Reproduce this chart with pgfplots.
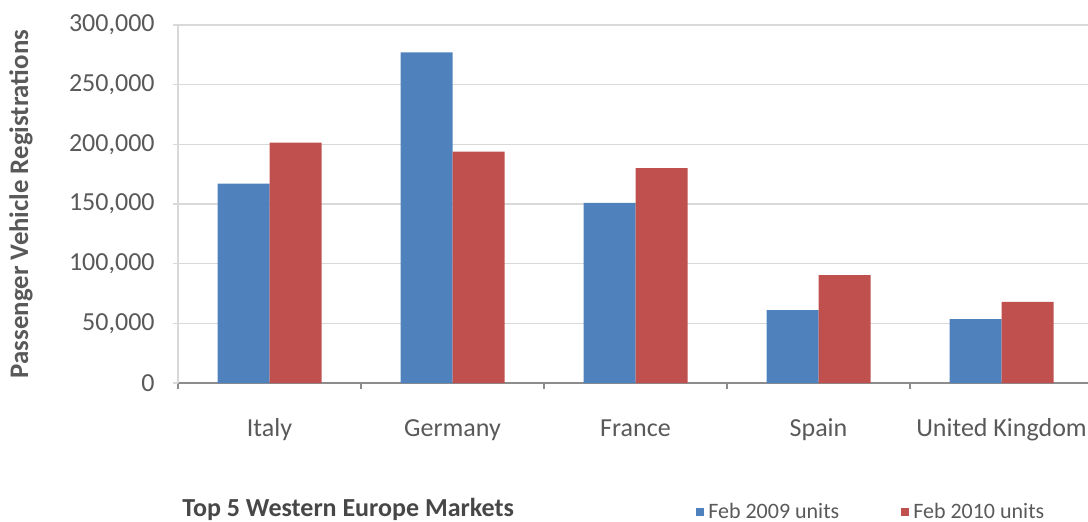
\documentclass[border=0pt]{standalone}
\usepackage{fontspec}
\setmainfont{Carlito}
\usepackage{pgfplots}
\pgfplotsset{compat=1.18}
\definecolor{barblue}{HTML}{4F81BD}
\definecolor{barred}{HTML}{C0504D}
\definecolor{txt}{HTML}{595959}
\definecolor{gridc}{HTML}{D9D9D9}
\definecolor{axc}{HTML}{8C8C8C}

\begin{document}
\begin{tikzpicture}
\begin{axis}[
  name=ax,
  scale only axis,
  width=457.5pt, height=179pt,
  ybar=0pt, bar width=26pt,
  xmin=-0.5, xmax=4.5,
  ymin=0, ymax=300000,
  xtick={0,1,2,3,4},
  xticklabels={Italy,Germany,France,Spain,United Kingdom},
  minor xtick={-0.5,0.5,1.5,2.5,3.5,4.5},
  ytick={0,50000,100000,150000,200000,250000,300000},
  scaled y ticks=false,
  /pgf/number format/fixed,
  /pgf/number format/1000 sep={,},
  /pgf/number format/assume math mode=true,
  axis lines*=left,
  x axis line style={axc, line width=0.6pt},
  y axis line style={gridc, line width=0.6pt},
  tick align=outside,
  major x tick style={draw=none},
  minor x tick style={axc, line width=0.6pt},
  ytick style={gridc, line width=0.6pt},
  major tick length=2.5pt,
  minor tick length=3pt,
  ymajorgrids,
  grid style={gridc, line width=0.6pt},
  yticklabel style={font=\fontsize{13}{15}\selectfont, text=txt, inner sep=0pt, anchor=east, xshift=-9pt},
  xticklabel style={font=\fontsize{13}{15}\selectfont, text=txt, inner sep=0pt, anchor=base, yshift=-24pt},
  ylabel={Passenger Vehicle Registrations},
  ylabel style={at={(axis description cs:-0.1716,0.5)}, anchor=center, font=\bfseries\fontsize{13.4}{15}\selectfont, text=txt},
  title={Top 5 Western Europe Markets},
  every axis title shift=0pt,
  title style={at={(axis description cs:0.0044,-0.3715)}, anchor=base west, inner sep=0pt, font=\bfseries\fontsize{13}{15}\selectfont, text=txt!80!black},
  legend style={at={(axis description cs:0.566,-0.36)}, anchor=west, draw=none, fill=none, inner sep=0pt,
    font=\fontsize{11}{13}\selectfont, text=txt,
    /tikz/every even column/.append style={column sep=29pt}},
  legend columns=2,
  legend cell align=left,
  legend image code/.code={\fill[#1] (0pt,-2pt) rectangle (4pt,2pt);},
]
\addplot[fill=barblue, draw=none] coordinates {(0,167000) (1,277000) (2,151000) (3,61000) (4,53500)};
\addplot[fill=barred, draw=none] coordinates {(0,201500) (1,194000) (2,180000) (3,90500) (4,68000)};
\legend{Feb 2009 units, Feb 2010 units}
\end{axis}
\pgfresetboundingbox
\path[use as bounding box] ([shift={(-89pt,-69pt)}]ax.south west) rectangle ([shift={(-2.5pt,12.5pt)}]ax.north east);
\end{tikzpicture}
\end{document}
